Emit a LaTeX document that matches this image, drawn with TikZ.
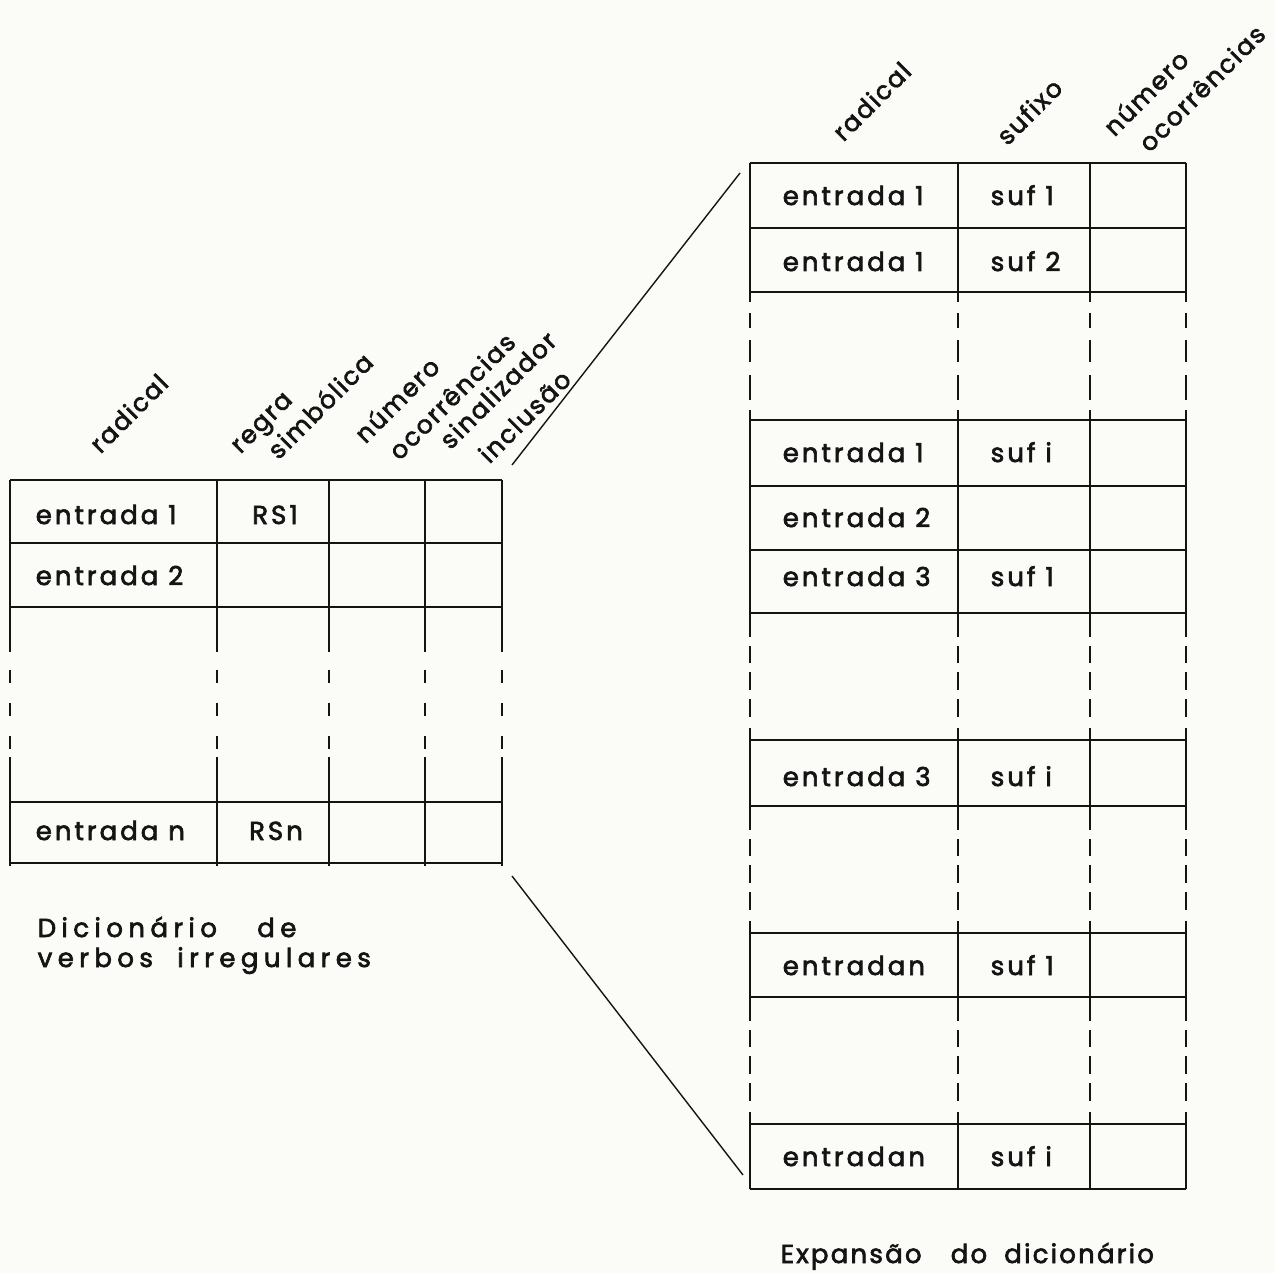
\documentclass[tikz,border=0pt]{standalone}
\usepackage{fontspec}
\newfontfamily\cellfont[LetterSpace=11.5,FakeBold=2.5]{Poppins}
\newfontfamily\headfont[LetterSpace=7,FakeBold=2.5]{Poppins}
\newfontfamily\capfontL[LetterSpace=20.8,FakeBold=2.5]{Poppins}
\newfontfamily\capfontR[LetterSpace=8.5,FakeBold=2.5]{Poppins}
\definecolor{paper}{RGB}{251,251,247}
\definecolor{ink}{RGB}{20,20,20}
\begin{document}
\begin{tikzpicture}[x=1pt,y=-1pt,line width=1.5pt,draw=ink,
  rule/.style={draw=ink,line width=1.5pt},
  leftgap/.style={rule,dash pattern=on 45pt off 18pt on 13pt off 20pt on 13pt off 20pt on 13pt off 8pt on 60pt},
  firstgap/.style={rule,dash pattern=on 10pt off 11pt on 15pt off 12pt on 22pt off 13pt on 25pt off 10pt on 20pt},
  rightgap/.style={rule,dash pattern=on 24pt off 9pt on 17pt off 9pt on 18pt off 9pt on 18pt off 11pt on 20pt},
  cell/.style={font=\cellfont\fontsize{26}{30}\selectfont,text=ink,inner sep=0pt,anchor=base west},
  head/.style={font=\headfont\fontsize{25}{29}\selectfont,text=ink,inner sep=0pt,anchor=base west,rotate=45},
  capL/.style={font=\capfontL\fontsize{26}{30}\selectfont,text=ink,inner sep=0pt,anchor=base west},
  capR/.style={font=\capfontR\fontsize{26}{30}\selectfont,text=ink,inner sep=0pt,anchor=base west},
  link/.style={draw=ink,line width=1.4pt}]

% sheet
\fill[paper] (0,0) rectangle (1275,1273);
\useasboundingbox (0,0) rectangle (1275,1273);

% ---------- dictionary of irregular verbs ----------
\foreach \y in {480,543,607,802,863}
  \draw[rule] (10,\y) -- (502,\y);
\foreach \x in {10,217,329,425,502}{
  \draw[rule] (\x,480) -- (\x,607);
  \draw[leftgap] (\x,607) -- (\x,802);
  \draw[rule] (\x,802) -- (\x,866);
}

\node[head] (hRad)  at (100,455) {radical};
\node[head] (hReg)  at (240,455) {regra};
\node[head] (hSim)  at (278,461) {simbólica};
\node[head] (hNum)  at (365,445) {número};
\node[head] (hOco)  at (399,462) {ocorrências};
\node[head] (hSin)  at (450,451) {sinalizador};
\node[head] (hInc)  at (489,465) {inclusão};

\node[cell] (l11) at (35,524) {entrada 1};
\node[cell,anchor=base] (l12) at (275,524) {RS1};
\node[cell] (l21) at (35,585) {entrada 2};
\node[cell] (ln1) at (35,840) {entrada n};
\node[cell,anchor=base] (ln2) at (276,840) {RSn};

\node[capL] (capL1) at (37,937) {Dicionário\hspace{28pt} de};
\node[capL] (capL2) at (37,967) {verbos\hspace{12pt} irregulares};

% ---------- expanded dictionary ----------
\foreach \y in {163,228,292,420,486,550,613,740,806,933,997,1124,1189}
  \draw[rule] (750,\y) -- (1186,\y);
\foreach \x in {750,958,1090,1186}{
  \draw[rule] (\x,163) -- (\x,292);
  \draw[firstgap] (\x,292) -- (\x,420);
  \draw[rule] (\x,420) -- (\x,613);
  \draw[rightgap] (\x,613) -- (\x,740);
  \draw[rule] (\x,740) -- (\x,806);
  \draw[rightgap] (\x,806) -- (\x,933);
  \draw[rule] (\x,933) -- (\x,997);
  \draw[rightgap] (\x,997) -- (\x,1124);
  \draw[rule] (\x,1124) -- (\x,1189);
}

\node[head] (rRad) at (843,143) {radical};
\node[head] (rSuf) at (1007,147) {sufixo};
\node[head] (rNum) at (1114,138) {número};
\node[head] (rOco) at (1149,154) {ocorrências};

\node[cell] (r11) at (782,205) {entrada 1};
\node[cell] (r12) at (990,205) {suf 1};
\node[cell] (r21) at (782,271) {entrada 1};
\node[cell] (r22) at (990,271) {suf 2};
\node[cell] (r31) at (782,462) {entrada 1};
\node[cell] (r32) at (990,462) {suf i};
\node[cell] (r41) at (782,527) {entrada 2};
\node[cell] (r51) at (782,586) {entrada 3};
\node[cell] (r52) at (990,586) {suf 1};
\node[cell] (r61) at (782,786) {entrada 3};
\node[cell] (r62) at (990,786) {suf i};
\node[cell] (r71) at (782,975) {entradan};
\node[cell] (r72) at (990,975) {suf 1};
\node[cell] (r81) at (782,1166) {entradan};
\node[cell] (r82) at (990,1166) {suf i};

\node[capR] (capR) at (780,1263) {Expansão\hspace{20pt} do\hspace{8pt} dicionário};

% ---------- expansion lines ----------
\coordinate (lTop) at (512,465);
\coordinate (rTop) at (740,173);
\coordinate (lBot) at (512,876);
\coordinate (rBot) at (743,1175);
\draw[link] (lTop) -- (rTop);
\draw[link] (lBot) -- (rBot);
\end{tikzpicture}
\end{document}
